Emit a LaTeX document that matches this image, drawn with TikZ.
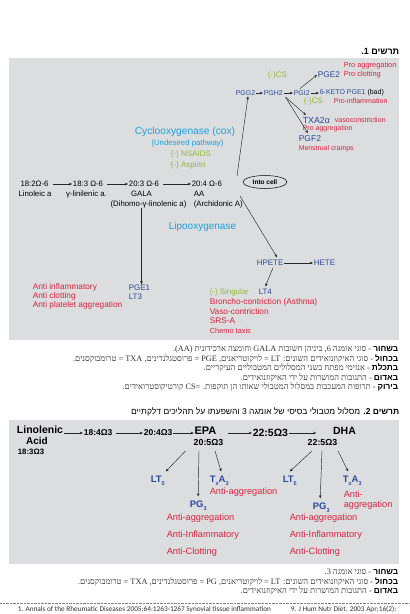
\documentclass[tikz,border=0pt]{standalone}
\usepackage{fontspec}
\setmainfont{Liberation Sans}
\newfontfamily\hebsans[Script=Hebrew]{Liberation Sans}
\newfontfamily\hebserif[Script=Hebrew]{Liberation Serif}
\newfontfamily\footfont{Carlito}
\usetikzlibrary{arrows.meta,shapes.geometric,calc}
\TeXXeTstate=1
\definecolor{bgc}{HTML}{DCDDDE}
\definecolor{dblue}{HTML}{2A4C9B}
\definecolor{cred}{HTML}{DA2440}
\definecolor{cgreen}{HTML}{93B83A}
\definecolor{ccyan}{HTML}{1EA0DC}
\definecolor{cgray}{HTML}{333333}
\newcommand\lsub[1]{\raisebox{-0.3em}{\fontsize{5.5}{5.5}\selectfont #1}}
\newcommand\kw[2]{{\hebsans\bfseries\color{#1}#2}}
\begin{document}
\begin{tikzpicture}[x=1pt,y=-1pt,
  every node/.style={inner sep=0pt,outer sep=0.8pt},
  f/.style={font=\fontsize{#1}{#1}\selectfont},
  fb/.style={font=\fontsize{#1}{#1}\selectfont\bfseries},
  L/.style={anchor=west},
  R/.style={anchor=east},
  arr/.style={-{Stealth[length=3.2pt,width=2.6pt]},line width=0.45pt,black!85},
  hebleg/.style={anchor=east,font=\hebserif\fontsize{8.3}{8.5}\selectfont,text=cgray},
  panel/.style={fill=bgc,draw=none,anchor=north west,inner sep=0pt,outer sep=0pt},
]
\useasboundingbox (0,0) rectangle (410,614);
\fill[white] (0,0) rectangle (410,614);
\clip (0,0) rectangle (410,614);

% ---------------- Figure 1 ----------------
\node[R,font=\hebsans\bfseries\fontsize{9}{9}\selectfont] (title1) at (400,51) {\beginR תרשים 1.\endR};
\node[panel,minimum width=390pt,minimum height=282pt] (panelA) at (9,58) {};

\node[L,f=7.4,text=cred] (proagg) at (343,66) {Pro aggregation};
\node[L,f=7.4,text=cred] (proclot) at (343,75) {Pro clotting};
\node[L,f=8,text=cgreen] (cs1) at (267,75) {(-)CS};
\node[L,f=8.3,text=dblue] (pge2) at (317,75) {PGE2};
\node[L,f=7,text=dblue] (pgg2) at (235,93) {PGG2};
\node[L,f=7,text=dblue] (pgh2) at (263,93) {PGH2};
\node[L,f=7,text=dblue] (pgi2) at (293,93) {PGI2};
\node[L,f=7,text=dblue] (keto) at (319,93) {6-KETO PGE1 \textcolor{black}{(bad)}};
\node[L,f=8,text=cgreen] (cs2) at (303,101) {(-)CS};
\node[L,f=7.1,text=cred] (proinf) at (333,101) {Pro-inflammation};
\node[L,f=8.8,text=dblue] (txa) at (302,120) {TXA2α};
\node[L,f=7.1,text=cred] (vaso) at (334,120) {vasoconstriction};
\node[L,f=7,text=cred] (proagg2) at (302,129) {Pro aggregation};
\node[L,f=8.5,text=dblue] (pgf2) at (298,139) {PGF2};
\node[L,f=6.9,text=cred] (menst) at (298,149) {Menstrual cramps};

\node[f=10.2,text=ccyan] (cox) at (185,132) {Cyclooxygenase (cox)};
\node[f=7.8,text=ccyan] (undes) at (187.5,143) {(Undesired pathway)};
\node[L,f=8,text=cgreen] (nsaid) at (170,154) {(-) NSAIDS};
\node[L,f=8,text=cgreen] (asp) at (170,165) {(-) Aspirin};

\node[f=7.8] (a1) at (34.5,184) {18:2Ω-6};
\node[f=7.8] (a2) at (88,184) {18:3 Ω-6};
\node[f=7.8] (a3) at (144,184) {20:3 Ω-6};
\node[L,f=7.8] (a4) at (191,184) {20:4 Ω-6};
\node[f=7.8] (l1) at (35,194) {Linoleic a};
\node[f=7.8] (l2) at (86.5,194) {γ-linilenic a.};
\node[f=7.8] (l3) at (141.5,194) {GALA};
\node[f=7.8] (l3b) at (148.5,204) {(Dihomo-γ-linolenic a)};
\node[L,f=7.8] (l4) at (193,194) {AA};
\node[L,f=7.8] (l4b) at (193,204) {(Archidonic A)};

\node[draw,ellipse,line width=0.5pt,minimum width=44pt,minimum height=13pt,fb=6.5] (cell) at (265,182) {Into cell};
\node[L,f=10,text=ccyan] (lipo) at (168,227) {Lipooxygenase};

\node[L,f=8,text=dblue] (pge1) at (128,288) {PGE1};
\node[L,f=8,text=dblue] (lt3) at (128,297) {LT3};
\node[L,f=8.3,text=cred] (ai1) at (32,287) {Anti inflammatory};
\node[L,f=8.3,text=cred] (ai2) at (32,296) {Anti clotting};
\node[L,f=8.3,text=cred] (ai3) at (32,305) {Anti platelet aggregation};

\node[L,f=8,text=dblue] (hpete) at (256,263) {HPETE};
\node[L,f=8,text=dblue] (hete) at (313,263) {HETE};
\node[L,f=7.9,text=cgreen] (sing) at (209,292) {(-) Singular};
\node[L,f=7.9,text=dblue] (lt4) at (258,292) {LT4};
\node[L,f=8.3,text=cred] (bron) at (209,302) {Broncho-contriction (Asthma)};
\node[L,f=8.3,text=cred] (vasc) at (209,312) {Vaso-contriction};
\node[L,f=8.3,text=cred] (srsa) at (209,321) {SRS-A};
\node[L,f=7.4,text=cred] (chemo) at (209,331) {Chemo taxis};

\coordinate (aaup) at (237,176);
\coordinate (aadown) at (240,196);

\draw[arr,shorten <=4pt] (a1.east) -- (a2.west);
\draw[arr,shorten <=3pt] (a2.east) -- (a3.west);
\draw[arr,shorten <=3pt] (a3.east) -- (a4.west);
\draw[arr] (l3b.south -| l3) -- (pge1.north -| l3);
\draw[arr] (aaup) -- ($(pgg2.south)+(2.5,0)$);
\draw[arr] (aadown) -- ($(hpete.north)+(7,-2)$);
\draw[arr] (pgg2.east) -- (pgh2.west);
\draw[arr] (pgh2.east) -- (pgi2.west);
\draw[arr] (pgi2.east) -- (keto.west);
\draw[arr] ($(pgi2.north)+(-2,-1)$) -- (pge2.west);
\draw[arr] ($(pgh2.south east)+(2,1)$) -- ($(txa.north west)+(4,-1)$);
\draw[arr] ($(pgh2.south east)+(2,1)$) -- ($(pgf2.north)+(-2,-2)$);
\draw[arr] (hpete.east) -- (hete.west);
\draw[arr] ($(hpete.south)+(3,1)$) -- ($(lt4.north)+(0,-2)$);

% legend 1
\node[hebleg] (g1a) at (399,349) {\beginR\kw{black}{בשחור} - סוגי אומגה 6, ביניהן חשובות \beginL GALA\endL{} וחומצה ארכידונית \beginL(AA)\endL.\endR};
\node[hebleg] (g1b) at (399,359) {\beginR\kw{dblue}{בכחול} - סוגי האיקוזנואידים השונים: \beginL LT\endL{} = לויקוטריאנים, \beginL PGE\endL{} = פרוסטגלנדינים, \beginL TXA\endL{} = טרומבוקסנים.\endR};
\node[hebleg] (g1c) at (399,368) {\beginR\kw{ccyan}{בתכלת} - אנזימי מפתח בשני המסלולים המטבוליים העיקריים.\endR};
\node[hebleg] (g1d) at (399,378) {\beginR\kw{cred}{באדום} - התגובות המושרות על ידי האיקוזנואידים.\endR};
\node[hebleg] (g1e) at (399,387) {\beginR\kw{cgreen}{בירוק} - תרופות המעכבות במסלול המטבולי שאותו הן תוקפות. \beginL CS=\endL{} קורטיקוסטרואידים.\endR};

% ---------------- Figure 2 ----------------
\node[R,font=\hebsans\fontsize{8.5}{9}\selectfont] (title2) at (400,412) {\beginR{\bfseries תרשים 2.} מסלול מטבולי בסיסי של אומגה 3 והשפעתו על תהליכים דלקתיים\endR};
\node[panel,minimum width=390pt,minimum height=144pt] (panelB) at (9,420) {};

\node[fb=10.5] (lin) at (40,430) {Linolenic};
\node[fb=10] (acid) at (37,441) {Acid};
\node[fb=7.8] (lin183) at (31,452) {18:3Ω3};
\node[L,fb=8.5] (n184) at (83,433) {18:4Ω3};
\node[L,fb=8.5] (n204) at (143,433) {20:4Ω3};
\node[fb=11] (epa) at (205.5,431) {EPA};
\node[fb=8.8] (epa2) at (208.5,442) {20:5Ω3};
\node[L,fb=10.5] (n225) at (252,433) {22:5Ω3};
\node[fb=10.5] (dha) at (344.5,431) {DHA};
\node[fb=8.8] (dha2) at (322.5,442) {22:5Ω3};

\draw[arr] (lin.east |- n184.west) -- (n184.west);
\draw[arr,shorten <=3pt] (n184.east) -- (n204.west);
\draw[arr] (n204.east) -- (n204.east -| epa.west);
\draw[arr,shorten <=11pt] (epa.east |- n225.west) -- (n225.west);
\draw[arr,shorten >=16pt] (n225.east) -- (n225.east -| dha.west);

\node[L,fb=9.5,text=dblue] (lt5a) at (150,481) {LT\lsub{5}};
\node[L,fb=9.5,text=dblue] (pg3a) at (189,506) {PG\lsub{3}};
\node[L,fb=9.5,text=dblue] (txa3a) at (209,481) {T\lsub{x}A\lsub{3}};
\node[L,f=9.2,text=cred] (txra) at (209,492) {Anti-aggregation};
\node[L,f=9.2,text=cred] (pra1) at (166,518) {Anti-aggregation};
\node[L,f=9.2,text=cred] (pra2) at (166,535) {Anti-Inflammatory};
\node[L,f=9.2,text=cred] (pra3) at (166,552) {Anti-Clotting};

\node[L,fb=9.5,text=dblue] (lt5b) at (282,481) {LT\lsub{5}};
\node[L,fb=9.5,text=dblue] (pg3b) at (312,508) {PG\lsub{3}};
\node[L,fb=9.5,text=dblue] (txa3b) at (342,481) {T\lsub{x}A\lsub{3}};
\node[L,f=9.2,text=cred] (txrb1) at (343,494) {Anti-};
\node[L,f=9.2,text=cred] (txrb2) at (343,505) {aggregation};
\node[L,f=9.2,text=cred] (prb1) at (289,518) {Anti-aggregation};
\node[L,f=9.2,text=cred] (prb2) at (289,535) {Anti-Inflammatory};
\node[L,f=9.2,text=cred] (prb3) at (289,552) {Anti-Clotting};

\draw[arr] ($(epa2.south)+(-23,5)$) -- ($(lt5a.north)+(8,-4)$);
\draw[arr] ($(epa2.south)+(-9.5,5)$) -- ($(pg3a.north)+(0,-4)$);
\draw[arr] ($(epa2.south)+(6.5,5)$) -- ($(txa3a.north)+(2,-4)$);
\draw[arr] ($(dha2.south)+(-10.5,5)$) -- ($(lt5b.north)+(0,-4)$);
\draw[arr] ($(dha2.south)+(-0.5,5)$) -- ($(pg3b.north)+(-1,-4)$);
\draw[arr] ($(dha2.south)+(15.5,5)$) -- ($(txa3b.north)+(-4,-4)$);

% legend 2
\node[hebleg] (g2a) at (399,572) {\beginR\kw{black}{בשחור} - סוגי אומגה 3.\endR};
\node[hebleg] (g2b) at (399,582) {\beginR\kw{dblue}{בכחול} - סוגי האיקוזנואידים השונים: \beginL LT\endL{} = לויקוטריאנים, \beginL PG\endL{} = פרוסטגלנדינים, \beginL TXA\endL{} = טרומבוקסנים.\endR};
\node[hebleg] (g2c) at (399,591) {\beginR\kw{cred}{באדום} - התגובות המושרות על ידי האיקוזנואידים.\endR};

% footer
\coordinate (dl) at (0,603.5);
\coordinate (dr) at (410,603.5);
\draw[gray,line width=0.5pt,dash pattern=on 0.5pt off 0.9pt] (dl) -- (dr);
\node[L,font=\footfont\fontsize{7.3}{7.3}\selectfont,text=cgray] (ref1) at (17,609.5) {1. Annals of the Rheumatic Diseases 2005;64:1263-1267 Synovial tissue inflammation};
\node[L,font=\footfont\fontsize{7.3}{7.3}\selectfont,text=cgray] (ref9) at (290,609.5) {9. J Hum Nutr Diet. 2003 Apr;16(2):};
\end{tikzpicture}
\end{document}
